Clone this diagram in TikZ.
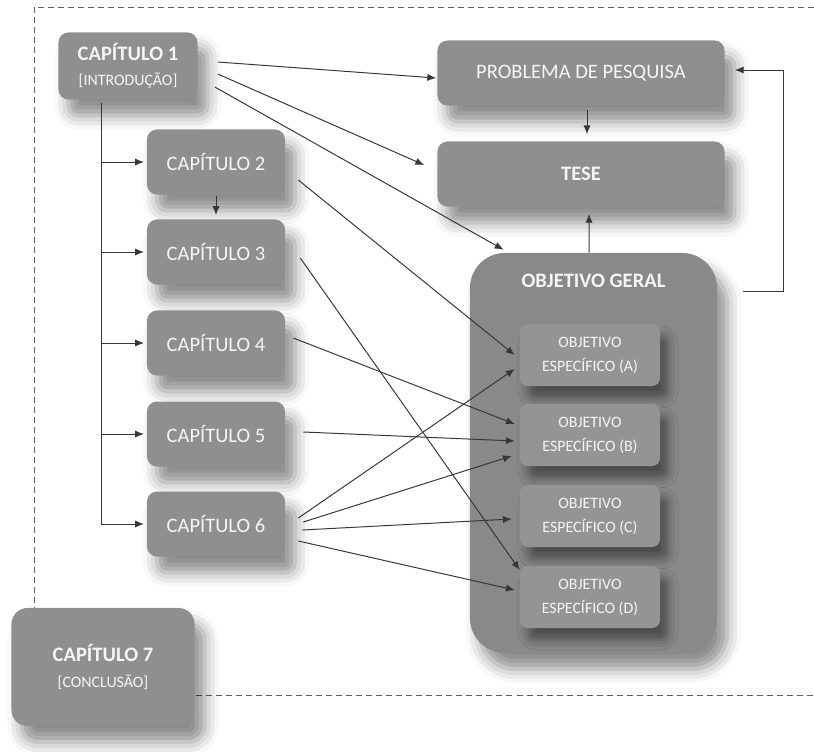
\documentclass[tikz,border=0pt]{standalone}
\usepackage{fontspec}
\setmainfont{Carlito}
\usetikzlibrary{arrows.meta,shadows.blur}
\definecolor{boxgray}{RGB}{143,143,143}
\definecolor{geralgray}{RGB}{137,137,137}
\definecolor{subgray}{RGB}{148,148,148}
\definecolor{linegray}{RGB}{55,55,55}
\newcommand{\bigtext}{\fontsize{14.6}{18}\selectfont}
\newcommand{\smalltext}{\fontsize{11.3}{17}\selectfont}

\begin{document}
\begin{tikzpicture}[x=0.025cm,y=-0.025cm,
    box/.style={fill=boxgray,text=white!96!black,align=center,rounded corners=0.25cm,font=\bigtext,
      blur shadow={shadow xshift=0.25cm,shadow yshift=-0.4cm,shadow blur radius=0.35cm,shadow opacity=45}},
    capbox/.style={box,minimum width=3.45cm,minimum height=1.625cm},
    objbox/.style={fill=subgray,text=white!96!black,align=center,rounded corners=0.2cm,font=\smalltext,
      minimum width=3.5cm,minimum height=1.55cm,
      blur shadow={shadow xshift=0.2cm,shadow yshift=-0.3cm,shadow blur radius=0.25cm,shadow opacity=45}},
    arr/.style={draw=linegray,line width=0.7pt,-{Latex[length=2.2mm,width=1.8mm]}}]
    \useasboundingbox (0,0) rectangle (814,751);
    % moldura
    \draw[linegray!80,line width=0.6pt,dash pattern=on 0.15cm off 0.1cm] (814,7) -| (34,695) -- (814,695);
    % capitulos
    \node[capbox,minimum width=3.475cm,minimum height=1.675cm] (cap1) at (128,66)
        {\textbf{CAPÍTULO 1}\\{\smalltext [INTRODUÇÃO]}};
    \node[capbox] (cap2) at (216,162) {CAPÍTULO 2};
    \node[capbox] (cap3) at (216,252) {CAPÍTULO 3};
    \node[capbox] (cap4) at (216,343) {CAPÍTULO 4};
    \node[capbox] (cap5) at (216,434) {CAPÍTULO 5};
    \node[capbox] (cap6) at (216,524) {CAPÍTULO 6};
    \node[box,minimum width=4.575cm,minimum height=2.95cm,rounded corners=0.4cm] (cap7) at (103,667)
        {\textbf{CAPÍTULO 7}\\{\smalltext [CONCLUSÃO]}};
    % problema, tese, objetivos
    \node[box,minimum width=7.175cm,minimum height=1.625cm] (prob) at (581,73) {PROBLEMA DE PESQUISA};
    \node[box,minimum width=7.175cm,minimum height=1.625cm] (tese) at (581,174) {\textbf{TESE}};
    \node[box,fill=geralgray,minimum width=6.175cm,minimum height=10cm,rounded corners=0.875cm,
        label={[anchor=north,yshift=-0.4cm,text=white!96!black,font=\bigtext\bfseries]north:OBJETIVO GERAL}]
        (geral) at (593.5,453) {};
    \foreach \n/\y in {A/355,B/435,C/516,D/597}
        \node[objbox] (obj\n) at (590,\y) {OBJETIVO\\ESPECÍFICO (\n)};
    % arvore do capitulo 1
    \coordinate (trunk) at ([xshift=-0.675cm,yshift=-0.075cm]cap1.south);
    \foreach \c in {cap2,cap3,cap4,cap5,cap6}
        \draw[arr,shorten >=2pt] (trunk) |- (\c.west);
    \draw[arr,shorten <=1pt,shorten >=3pt] (cap2.south) -- (cap3.north);
    \draw[arr,shorten <=3pt,shorten >=5pt] ([xshift=0.15cm]prob.south) -- ([xshift=0.15cm]tese.north);
    \draw[arr,shorten >=5pt] ([xshift=-0.11cm]geral.north) -- ([xshift=0.2cm]tese.south);
    \coordinate (loop) at ([shift={(26,39)}]geral.north east);
    \draw[arr] (loop) -- ++(1cm,0) |- ([shift={(10,-3)}]prob.east);
    % ligacoes
    \draw[arr] ([shift={(20,-4)}]cap1.east) -- ([shift={(-1,5)}]prob.west);
    \draw[arr] ([shift={(20,8)}]cap1.east) -- ([shift={(-13,-9)}]tese.west);
    \draw[arr] ([shift={(17,21)}]cap1.east) -- ([shift={(-90,-3)}]geral.north);
    \draw[arr] ([shift={(13,18)}]cap2.east) -- ([shift={(-5,0)}]objA.west);
    \draw[arr] ([shift={(15,6)}]cap3.east) -- ([shift={(0,-27)}]objD.west);
    \draw[arr] ([shift={(8,-5)}]cap4.east) -- ([shift={(-5,-11)}]objB.west);
    \draw[arr] ([shift={(18,-2)}]cap5.east) -- ([shift={(-5,6)}]objB.west);
    \draw[arr] ([shift={(13,-6)}]cap6.east) -- ([shift={(-5,14)}]objA.west);
    \draw[arr] ([shift={(18,-2)}]cap6.east) -- ([shift={(-8,21)}]objB.west);
    \draw[arr] ([shift={(17,6)}]cap6.east) -- ([shift={(-8,3)}]objC.west);
    \draw[arr] ([shift={(13,17)}]cap6.east) -- ([shift={(-5,-7)}]objD.west);
\end{tikzpicture}
\end{document}
